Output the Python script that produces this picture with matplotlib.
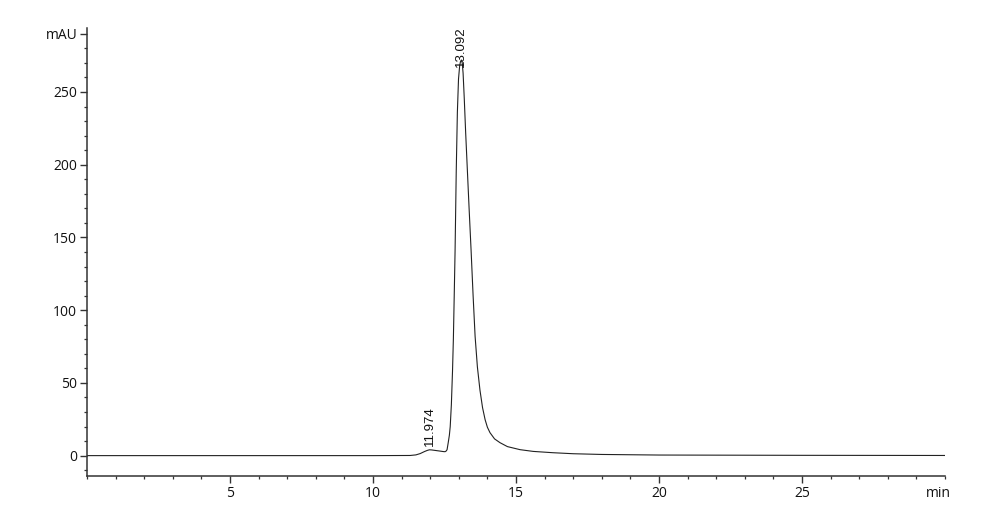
#!/usr/bin/env python3
"""HPLC chromatogram: one main peak at 13.092 min with a small shoulder at 11.974 min."""

import matplotlib as mpl

mpl.use("Agg")

import matplotlib.pyplot as plt
from matplotlib.ticker import MultipleLocator
from matplotlib.transforms import blended_transform_factory

# retention time (min) and absorbance (mAU)
times = [0.0, 5.0, 10.0, 11.3, 11.5, 11.65, 11.8, 11.9, 11.974, 12.05, 12.2, 12.35,
         12.45, 12.52, 12.56, 12.59, 12.63, 12.67, 12.70, 12.74, 12.78, 12.81, 12.84,
         12.87, 12.91, 12.95, 12.99, 13.03, 13.06, 13.092, 13.12, 13.15, 13.19, 13.24,
         13.30, 13.36, 13.43, 13.50, 13.57, 13.65, 13.74, 13.83, 13.92, 14.0, 14.09,
         14.25, 14.44, 14.7, 15.14, 15.6, 16.29, 17.0, 18.0, 20.0, 25.0, 30.0]
mau = [0.0, 0.0, 0.0, 0.1, 0.5, 1.4, 2.8, 3.6, 4.0, 3.9, 3.5, 3.1,
       2.8, 2.7, 3.2, 4.1, 8.9, 14.0, 20.0, 35.0, 58.0, 80.0, 110.0,
       141.0, 195.0, 236.0, 259.0, 268.0, 271.0, 272.0, 270.0, 263.0, 246.0, 222.0,
       196.0, 170.0, 141.0, 110.0, 82.0, 61.0, 45.0, 33.0, 24.7, 19.5, 15.8,
       11.5, 8.9, 6.2, 4.1, 2.9, 2.0, 1.3, 0.8, 0.4, 0.2, 0.1]

peak_times = [11.974, 13.092]
peak_heights = [4.0, 272.0]
peak_labels = ["11.974", "13.092"]

y_major = [0, 50, 100, 150, 200, 250, 290]
y_labels = ["0", "50", "100", "150", "200", "250", "mAU"]
x_major = [5, 10, 15, 20, 25]
x_labels = ["5", "10", "15", "20", "25"]

AXIS_COLOR = "#333333"
TICK_FONT = "Open Sans"

fig = plt.figure(figsize=(10.0, 5.23), dpi=100)
ax = fig.add_axes([0.087, 0.0899, 0.858, 0.8566])

ax.plot(times, mau, color="#222222", linewidth=0.8)

for t, h, label, dy in zip(peak_times, peak_heights, peak_labels, (3, -5)):
    ax.annotate(label, (t, h), xytext=(0, dy), textcoords="offset points",
                rotation=90, ha="center", va="bottom", fontsize=9.5,
                family="Liberation Sans", color="#111111")

ax.set_xlim(0, 30)
ax.set_ylim(-14, 294)

ax.set_xticks(x_major)
ax.set_xticklabels(x_labels)
ax.xaxis.set_minor_locator(MultipleLocator(1))
ax.set_yticks(y_major)
ax.set_yticklabels(y_labels)
ax.yaxis.set_minor_locator(MultipleLocator(10))

trans = blended_transform_factory(ax.transData, ax.transAxes)
ax.text(29.76, -0.022, "min", transform=trans, ha="center", va="top",
        fontsize=10, family=TICK_FONT, color="#111111")

for side in ("top", "right"):
    ax.spines[side].set_visible(False)
for side in ("left", "bottom"):
    ax.spines[side].set_color(AXIS_COLOR)
    ax.spines[side].set_linewidth(1.1)

ax.tick_params(which="major", length=5, width=1.0, color=AXIS_COLOR,
               labelsize=10, labelcolor="#111111", pad=2.0)
ax.tick_params(which="minor", length=2.5, width=0.9, color=AXIS_COLOR)
for lab in ax.get_xticklabels() + ax.get_yticklabels():
    lab.set_family(TICK_FONT)

fig.savefig("out.png", facecolor="white")
plt.close(fig)
